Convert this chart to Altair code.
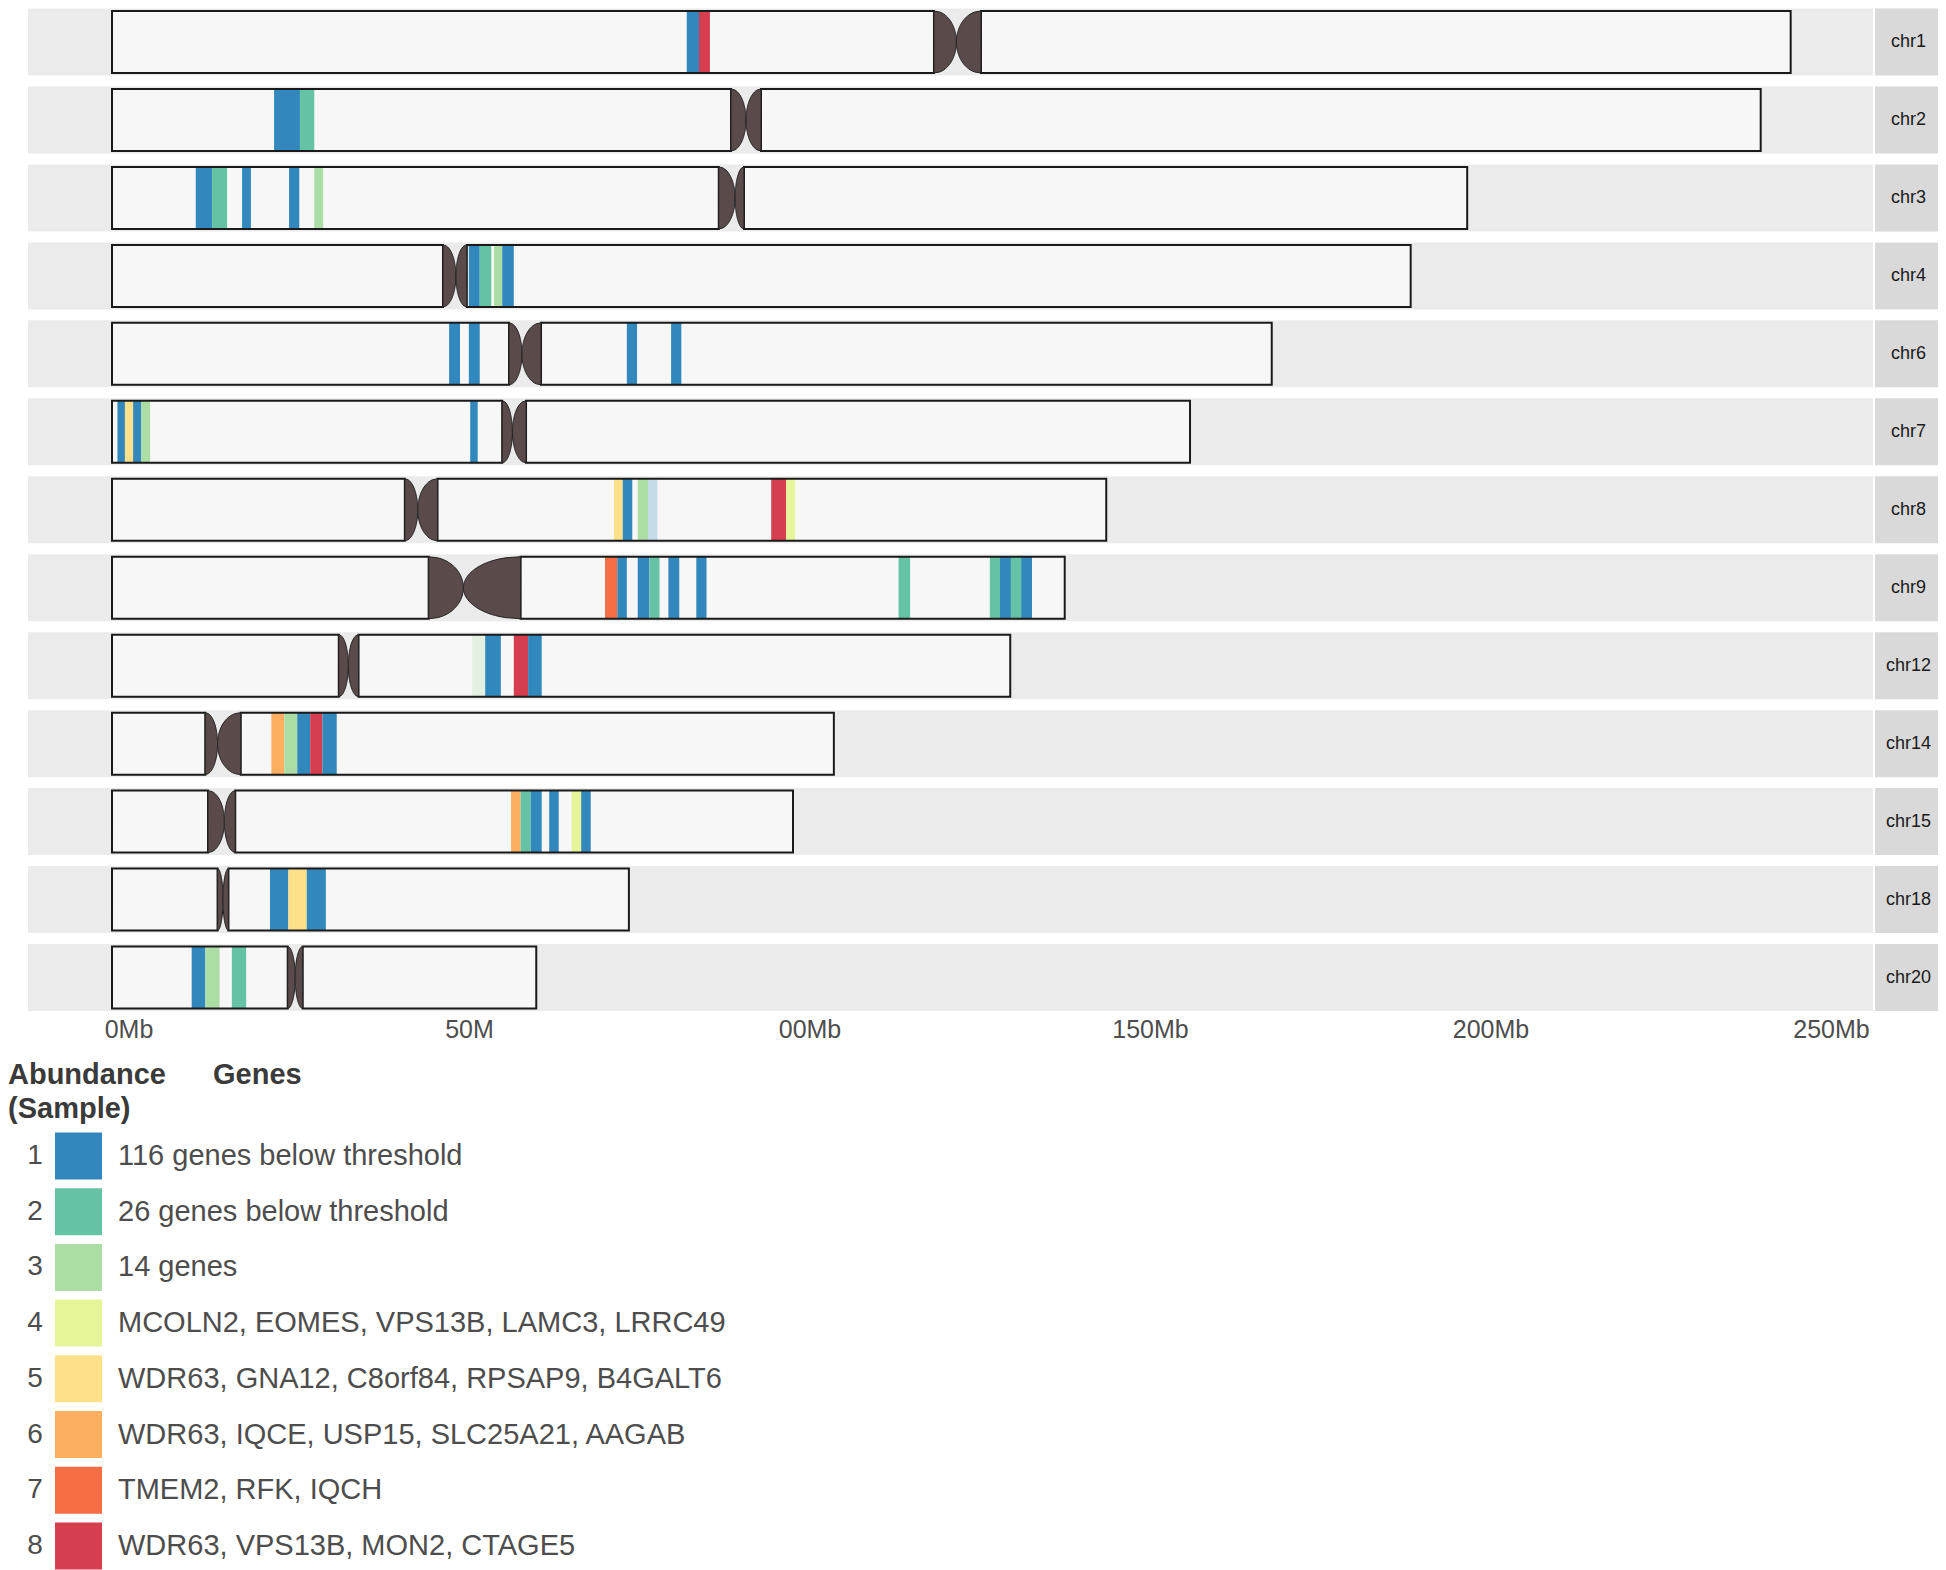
import altair as alt
import pandas as pd
import numpy as np

# ---------------- data (Mb) ----------------
chroms = ["chr1", "chr2", "chr3", "chr4", "chr6", "chr7", "chr8", "chr9",
          "chr12", "chr14", "chr15", "chr18", "chr20"]
lengths = [246.5, 242.1, 199.0, 190.7, 170.3, 158.3, 146.0, 139.9, 131.9,
           106.0, 100.0, 75.9, 62.3]
cen_start = [120.7, 90.9, 89.1, 48.6, 58.3, 57.3, 43.0, 46.5, 33.3, 13.7, 14.1, 15.5, 25.8]
cen_mid = [124.0, 93.1, 91.5, 50.5, 60.2, 58.8, 44.9, 51.6, 34.7, 15.5, 16.5, 16.3, 26.9]
cen_end = [127.6, 95.3, 92.8, 52.1, 63.0, 60.8, 47.8, 60.0, 36.2, 18.9, 18.1, 17.1, 28.0]

band_chrom = (["chr1"] * 2 + ["chr2"] * 2 + ["chr3"] * 5 + ["chr4"] * 4 + ["chr6"] * 4
              + ["chr7"] * 5 + ["chr8"] * 6 + ["chr9"] * 11 + ["chr12"] * 4
              + ["chr14"] * 5 + ["chr15"] * 6 + ["chr18"] * 3 + ["chr20"] * 3)
band_start = [84.4, 86.2,
              23.8, 27.6,
              12.3, 14.7, 19.1, 26.0, 29.7,
              52.4, 54.0, 56.1, 57.3,
              49.5, 52.4, 75.6, 82.1,
              0.8, 1.9, 3.1, 4.3, 52.6,
              73.7, 75.0, 77.2, 78.7, 96.8, 99.0,
              72.4, 74.2, 77.2, 78.9, 81.7, 85.8, 115.5, 128.9, 130.4, 132.0, 133.5,
              52.9, 54.8, 59.0, 61.1,
              23.4, 25.3, 27.2, 29.1, 30.9,
              58.6, 60.0, 61.5, 64.2, 67.5, 68.9,
              23.2, 25.9, 28.6,
              11.7, 13.7, 17.6]
band_end = [86.2, 87.8,
            27.6, 29.7,
            14.7, 16.9, 20.4, 27.5, 31.0,
            54.0, 55.7, 57.3, 59.0,
            51.1, 54.0, 77.1, 83.6,
            1.9, 3.1, 4.3, 5.6, 53.7,
            75.0, 76.4, 78.7, 80.1, 99.0, 100.3,
            74.2, 75.6, 78.9, 80.4, 83.3, 87.3, 117.2, 130.4, 132.0, 133.5, 135.1,
            54.8, 57.1, 61.1, 63.1,
            25.3, 27.2, 29.1, 30.9, 33.0,
            60.0, 61.5, 63.1, 65.6, 68.9, 70.3,
            25.9, 28.6, 31.4,
            13.7, 15.8, 19.7]
band_abund = [1, 8,
              1, 2,
              1, 2, 1, 1, 3,
              1, 2, 3, 1,
              1, 1, 1, 1,
              1, 5, 1, 3, 1,
              5, 1, 3, 1, 8, 4,
              7, 1, 1, 2, 1, 1, 2, 2, 1, 2, 1,
              3, 1, 8, 1,
              6, 3, 1, 8, 1,
              6, 2, 1, 1, 4, 1,
              1, 5, 1,
              1, 3, 2]
band_alpha = [1.0] * len(band_abund)
band_alpha[25] = 0.25   # pale band on chr8
band_alpha[39] = 0.25   # pale band on chr12

abund_levels = ["1", "2", "3", "4", "5", "6", "7", "8"]
abund_colors = ["#3288bd", "#66c2a5", "#abdda4", "#e6f598",
                "#fee08b", "#fdae61", "#f46d43", "#d53e4f"]
legend_genes = ["116 genes below threshold", "26 genes below threshold", "14 genes",
                "MCOLN2, EOMES, VPS13B, LAMC3, LRRC49",
                "WDR63, GNA12, C8orf84, RPSAP9, B4GALT6",
                "WDR63, IQCE, USP15, SLC25A21, AAGAB",
                "TMEM2, RFK, IQCH",
                "WDR63, VPS13B, MON2, CTAGE5"]

tick_values = [0, 50, 100, 150, 200, 250]
tick_labels = ["0Mb", "50M", "00Mb", "150Mb", "200Mb", "250Mb"]

# ---------------- layout constants ----------------
FONT = "Liberation Sans"
W, H = 1936, 1562               # plot area; origin sits at page (2, 8)
PX0, PXMB = 110, 6.81           # plot-x of 0 Mb, pixels per Mb
ROW, CY0 = 77.96, 32.0          # row pitch and first row centre (px)
PANEL_HALF = 33.5 / ROW
BAR_HALF = 31 / ROW

xs = alt.Scale(domain=[-PX0 / PXMB, (W - PX0) / PXMB], nice=False, zero=False)
yd0 = -CY0 / ROW
ys = alt.Scale(domain=[yd0, yd0 + H / ROW], reverse=True, nice=False, zero=False)
LROW, LCY0 = 55.7, 1146.0
ld0 = -LCY0 / LROW
ls = alt.Scale(domain=[ld0, ld0 + H / LROW], reverse=True, nice=False, zero=False)
cscale = alt.Scale(domain=abund_levels, range=abund_colors)

# ---------------- tables ----------------
idx = {c: i for i, c in enumerate(chroms)}
chrom_df = pd.DataFrame({"chrom": chroms, "idx": range(len(chroms))})
chrom_df["p0"] = chrom_df["idx"] - PANEL_HALF
chrom_df["p1"] = chrom_df["idx"] + PANEL_HALF

arm_rows = []
for c, L, cs, ce in zip(chroms, lengths, cen_start, cen_end):
    i = idx[c]
    arm_rows.append({"chrom": c, "s": 0.0, "e": cs, "b0": i - BAR_HALF, "b1": i + BAR_HALF})
    arm_rows.append({"chrom": c, "s": ce, "e": L, "b0": i - BAR_HALF, "b1": i + BAR_HALF})
arm_df = pd.DataFrame(arm_rows)

band_df = pd.DataFrame({"chrom": band_chrom, "s": band_start, "e": band_end,
                        "abund": [str(a) for a in band_abund], "alpha": band_alpha})
band_df["b0"] = band_df["chrom"].map(idx) - BAR_HALF
band_df["b1"] = band_df["chrom"].map(idx) + BAR_HALF

# centromere outline: two half-ellipses meeting at cen_mid
t = np.linspace(-1, 1, 61)
bulge = np.sqrt(np.clip(1 - t ** 2, 0, 1))
cen_rows = []
for c, cs, cm, ce in zip(chroms, cen_start, cen_mid, cen_end):
    i = idx[c]
    for tv, b in zip(t, bulge):
        cen_rows.append({"piece": c + "L", "yy": i + tv * BAR_HALF, "xa": cs, "xb": cs + (cm - cs) * b})
        cen_rows.append({"piece": c + "R", "yy": i + tv * BAR_HALF, "xa": ce - (ce - cm) * b, "xb": ce})
cen_df = pd.DataFrame(cen_rows)

tick_df = pd.DataFrame({"tick": tick_values, "lab": tick_labels})
leg_df = pd.DataFrame({"k": range(8), "abund": abund_levels, "genes": legend_genes})

# ---------------- layers ----------------
Yp = alt.Y("p0:Q", scale=ys, axis=None)
panel = alt.Chart(chrom_df).mark_rect(color="#ebebeb").encode(
    x=alt.value(26), x2=alt.value(1871), y=Yp, y2="p1:Q")
strip = alt.Chart(chrom_df).mark_rect(color="#d9d9d9").encode(
    x=alt.value(1873), x2=alt.value(W), y=Yp, y2="p1:Q")
strip_text = alt.Chart(chrom_df).mark_text(font=FONT, fontSize=18, color="#1a1a1a").encode(
    x=alt.value(1906.5), y=alt.Y("idx:Q", scale=ys, axis=None), text="chrom:N")

Xs = alt.X("s:Q", scale=xs, axis=None)
Yb = alt.Y("b0:Q", scale=ys, axis=None)
arm_fill = alt.Chart(arm_df).mark_rect(fill="#f7f7f7").encode(x=Xs, x2="e:Q", y=Yb, y2="b1:Q")
bands = alt.Chart(band_df).mark_rect().encode(
    x=Xs, x2="e:Q", y=Yb, y2="b1:Q",
    color=alt.Color("abund:N", scale=cscale, legend=None),
    opacity=alt.Opacity("alpha:Q", scale=None, legend=None))
arm_line = alt.Chart(arm_df).mark_rect(fillOpacity=0, stroke="#1a1a1a", strokeWidth=2).encode(
    x=Xs, x2="e:Q", y=Yb, y2="b1:Q")
cen = alt.Chart(cen_df).mark_area(orient="horizontal", fill="#5b4a4a", stroke="#222222",
                                  strokeWidth=1).encode(
    y=alt.Y("yy:Q", scale=ys, axis=None),
    x=alt.X("xa:Q", scale=xs, axis=None), x2="xb:Q", detail="piece:N")

ticks = alt.Chart(tick_df).mark_text(font=FONT, fontSize=25, color="#4d4d4d", dx=17,
                                     baseline="middle").encode(
    x=alt.X("tick:Q", scale=xs, axis=None), y=alt.value(1020), text="lab:N")

def title_layer(txt, px, py):
    return alt.Chart(pd.DataFrame({"t": [txt]})).mark_text(
        font=FONT, fontSize=29, fontWeight="bold", color="#3a3a3a", align="left",
        baseline="middle").encode(x=alt.value(px), y=alt.value(py), text="t:N")

title1 = title_layer("Abundance", 6, 1064.5)
title2 = title_layer("(Sample)", 6, 1099)
title3 = title_layer("Genes", 211, 1064.5)

Yl = alt.Y("k:Q", scale=ls, axis=None)
leg_num = alt.Chart(leg_df).mark_text(font=FONT, fontSize=28, color="#4d4d4d",
                                      baseline="middle").encode(
    x=alt.value(33), y=Yl, text="abund:N")
leg_sq = alt.Chart(leg_df).mark_square(size=47 * 47, opacity=1).encode(
    x=alt.value(76.5), y=Yl, color=alt.Color("abund:N", scale=cscale, legend=None))
leg_txt = alt.Chart(leg_df).mark_text(font=FONT, fontSize=29, color="#4d4d4d", align="left",
                                      baseline="middle").encode(
    x=alt.value(116), y=Yl, text="genes:N")

chart = alt.layer(
    panel, strip, strip_text, arm_fill, bands, arm_line, cen, ticks,
    title1, title2, title3, leg_num, leg_sq, leg_txt
).resolve_scale(y="independent").properties(
    width=W, height=H, padding={"left": -6, "top": 0, "right": 0, "bottom": 0}
).configure_view(stroke=None)

chart.save("out.html", embed_options={"renderer": "svg", "actions": False})
